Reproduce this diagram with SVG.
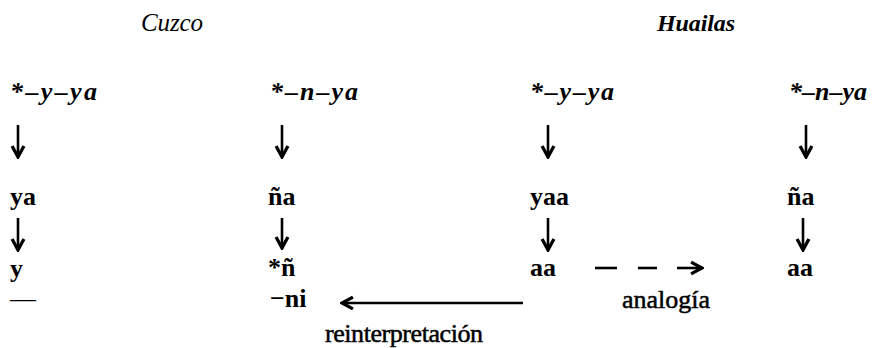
<svg xmlns="http://www.w3.org/2000/svg" width="879" height="348" viewBox="0 0 879 348">
<style>
text{font-family:"Liberation Serif","Times New Roman",serif;fill:#000;font-size:26px}
.hd{font-style:italic;font-size:25px}
.hb{font-style:italic;font-weight:bold;font-size:24px}
.pf{font-style:italic;font-weight:bold}
.f{font-weight:bold}
.lb{font-weight:normal;stroke:#000;stroke-width:0.5}
.ln{stroke:#000;stroke-width:2.6;fill:none}
</style>
<defs>
<marker id="ah" viewBox="0 0 10 10" refX="8.5" refY="5" markerWidth="6" markerHeight="6" orient="auto" markerUnits="strokeWidth">
<path d="M1.5,1.2 L8.5,5 L1.5,8.8" fill="none" stroke="#000" stroke-width="2.1" stroke-linejoin="miter"/>
</marker>
</defs>
<rect width="879" height="348" fill="#fff"/>
<g id="headers">
<text class="hd" x="141" y="31" textLength="62">Cuzco</text>
<text class="hb" x="657" y="31" textLength="78">Huailas</text>
</g>
<g id="c1">
<text class="pf" x="10" y="100" textLength="87">*–y–ya</text>
<text class="f" x="10" y="205">ya</text>
<text class="f" x="10" y="277">y</text>
<text x="10" y="307">—</text>
</g>
<g id="c2">
<text class="pf" x="270" y="100" textLength="88">*–n–ya</text>
<text class="f" x="268" y="205">ña</text>
<text class="f" x="268" y="276">*ñ</text>
<text class="f" x="270" y="307">−ni</text>
</g>
<g id="c3">
<text class="pf" x="530" y="100" textLength="84">*–y–ya</text>
<text class="f" x="530" y="205">yaa</text>
<text class="f" x="530" y="276">aa</text>
</g>
<g id="c4">
<text class="pf" x="789" y="100" textLength="78">*–n–ya</text>
<text class="f" x="787" y="205">ña</text>
<text class="f" x="787" y="276">aa</text>
</g>
<g id="labels">
<text class="lb" x="622" y="308" textLength="88">analogía</text>
<text class="lb" x="325" y="342" textLength="158">reinterpretación</text>
</g>
<g id="connectors">
<line class="ln" x1="18" y1="125" x2="18" y2="157" marker-end="url(#ah)"/>
<line class="ln" x1="282" y1="125" x2="282" y2="157" marker-end="url(#ah)"/>
<line class="ln" x1="548" y1="125" x2="548" y2="157" marker-end="url(#ah)"/>
<line class="ln" x1="806" y1="125" x2="806" y2="157" marker-end="url(#ah)"/>
<line class="ln" x1="18" y1="218" x2="18" y2="250" marker-end="url(#ah)"/>
<line class="ln" x1="282" y1="218" x2="282" y2="248" marker-end="url(#ah)"/>
<line class="ln" x1="548" y1="218" x2="548" y2="250" marker-end="url(#ah)"/>
<line class="ln" x1="803" y1="218" x2="803" y2="250" marker-end="url(#ah)"/>
<line class="ln" x1="595" y1="268" x2="617" y2="268"/>
<line class="ln" x1="638" y1="268" x2="657" y2="268"/>
<line class="ln" x1="677" y1="268" x2="702" y2="268" marker-end="url(#ah)"/>
<line class="ln" x1="523" y1="303" x2="342" y2="303" marker-end="url(#ah)"/>
</g>
</svg>
